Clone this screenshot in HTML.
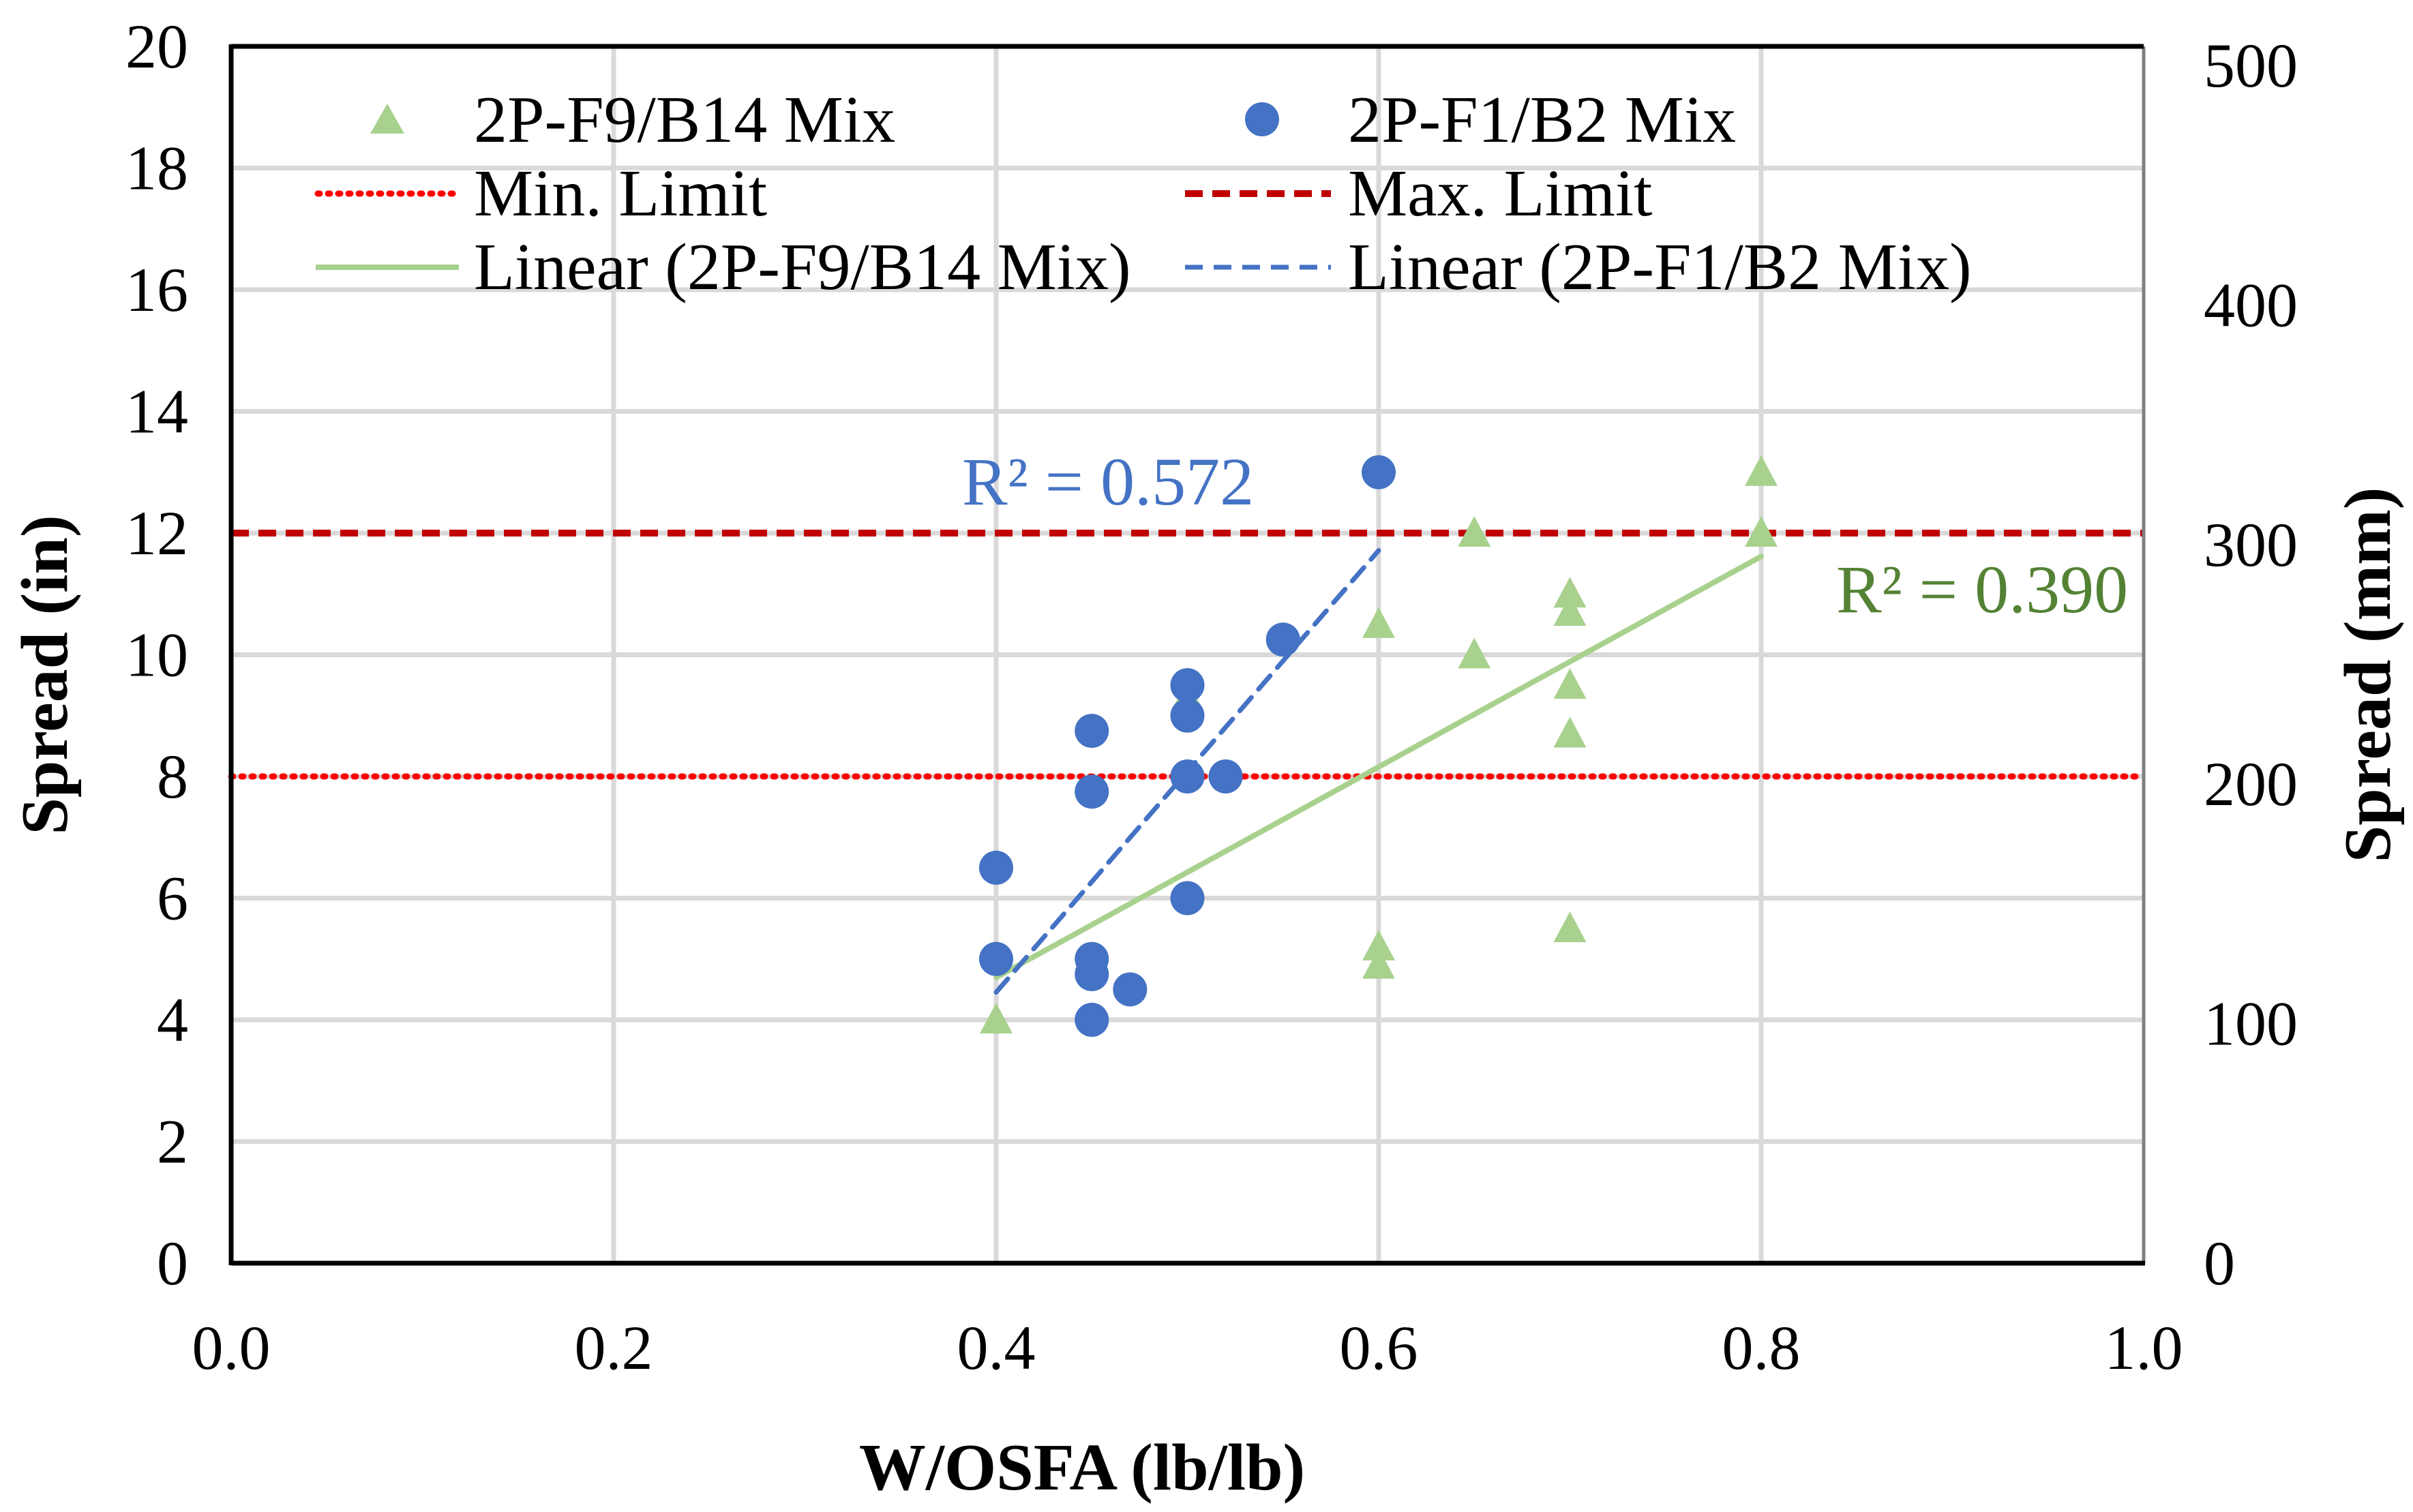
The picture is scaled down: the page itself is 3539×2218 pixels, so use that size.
<!DOCTYPE html>
<html><head><meta charset="utf-8"><style>
html,body{margin:0;padding:0;background:#fff}
svg{display:block;font-family:"Liberation Serif",serif}
</style></head><body>
<svg id="chart" width="3539" height="2218" viewBox="0 0 3539 2218">
<g id="grid"></g>
<g id="limits"></g>
<g id="trends"></g>
<g id="marks"></g>
<g id="axes"></g>
<g id="labels" font-size="92"></g>
<text x="1587" y="2185" font-size="98" font-weight="bold" text-anchor="middle">W/OSFA (lb/lb)</text>
<text transform="translate(98,990) rotate(-90)" font-size="98" font-weight="bold" text-anchor="middle">Spread (in)</text>
<text transform="translate(3505,990) rotate(-90)" font-size="98" font-weight="bold" text-anchor="middle">Spread (mm)</text>
<text x="1411" y="740" font-size="100" fill="#4472C4">R² = 0.572</text>
<text x="2693" y="898" font-size="100" fill="#548235">R² = 0.390</text>
<g font-size="98">
<polygon points="568,152 543,196 593,196" fill="#A9D18E"/>
<text x="695" y="208">2P-F9/B14 Mix</text>
<circle cx="1851" cy="175" r="25" fill="#4472C4"/>
<text x="1977" y="208">2P-F1/B2 Mix</text>
<line x1="466" y1="284" x2="673" y2="284" stroke="#FF0000" stroke-width="9" stroke-dasharray="3 12" stroke-linecap="round"/>
<text x="695" y="316">Min. Limit</text>
<line x1="1738" y1="284" x2="1952" y2="284" stroke="#C00000" stroke-width="10" stroke-dasharray="26 14"/>
<text x="1977" y="316">Max. Limit</text>
<line x1="463" y1="392" x2="673" y2="392" stroke="#A9D18E" stroke-width="8"/>
<text x="695" y="424">Linear (2P-F9/B14 Mix)</text>
<line x1="1738" y1="392" x2="1952" y2="392" stroke="#4472C4" stroke-width="7" stroke-dasharray="26 16"/>
<text x="1977" y="424">Linear (2P-F1/B2 Mix)</text>
</g>
</svg>
<script>
const xTicks = [0, 0.2, 0.4, 0.6, 0.8, 1.0];
const xTickLabels = ["0.0", "0.2", "0.4", "0.6", "0.8", "1.0"];
const yTicks = [0, 2, 4, 6, 8, 10, 12, 14, 16, 18, 20];
const y2Ticks = [0, 100, 200, 300, 400, 500];
const greenX = [0.4, 0.5, 0.6, 0.6, 0.6, 0.65, 0.65, 0.7, 0.7, 0.7, 0.7, 0.7, 0.8, 0.8];
const greenY = [4, 9.3, 10.5, 5.2, 4.9, 12, 10, 11, 10.7, 9.5, 8.7, 5.5, 13, 12];
const blueX = [0.4, 0.4, 0.45, 0.45, 0.45, 0.45, 0.45, 0.47, 0.5, 0.5, 0.5, 0.5, 0.52, 0.55, 0.6];
const blueY = [6.5, 5, 8.75, 7.75, 5, 4.75, 4, 4.5, 9.5, 9, 8, 6, 8, 10.25, 13];
const limits = [8, 12];

const L=339,R=3144,T=68,B=1853;
const sx=v=>L+(v-0)/(1-0)*(R-L);
const sy=v=>B-(v-0)/(20-0)*(B-T);
const NS="http://www.w3.org/2000/svg";
function mk(tag,attrs,parent){const e=document.createElementNS(NS,tag);for(const k in attrs)e.setAttribute(k,attrs[k]);document.getElementById(parent).appendChild(e);return e;}

xTicks.forEach((t,i)=>{
  if(t>0&&t<1){const g=mk('line',{x1:sx(t),x2:sx(t),y1:T,y2:B,stroke:'#D9D9D9','stroke-width':7},'grid');
  
  }
  const tx=mk('text',{x:sx(t),y:2008,'text-anchor':'middle'},'labels');tx.textContent=xTickLabels[i];
  
  
});
yTicks.forEach(t=>{
  if(t>0&&t<20){const g=mk('line',{x1:L,x2:R,y1:sy(t),y2:sy(t),stroke:'#D9D9D9','stroke-width':7},'grid');
  
  }
  const tx=mk('text',{x:276,y:sy(t)+31,'text-anchor':'end'},'labels');tx.textContent=t;
  
  
});
y2Ticks.forEach(t=>{
  const tx=mk('text',{x:3232,y:sy(t/25.4)+31},'labels');tx.textContent=t;
  
  
});
const mn=mk('line',{x1:L,x2:R,y1:sy(limits[0]),y2:sy(limits[0]),stroke:'#FF0000','stroke-width':9,'stroke-dasharray':'3 12','stroke-linecap':'round'},'limits');


const mx=mk('line',{x1:L,x2:R,y1:sy(limits[1]),y2:sy(limits[1]),stroke:'#C00000','stroke-width':10,'stroke-dasharray':'26 14'},'limits');


function reg(xs,ys){const n=xs.length;const mx=xs.reduce((a,b)=>a+b)/n,my=ys.reduce((a,b)=>a+b)/n;let sxy=0,sxx=0;for(let i=0;i<n;i++){sxy+=(xs[i]-mx)*(ys[i]-my);sxx+=(xs[i]-mx)**2;}const m=sxy/sxx;return [m,my-m*mx];}
const [gm,gb]=reg(greenX,greenY);
const gx0=Math.min(...greenX),gx1=Math.max(...greenX);
const gl=mk('line',{x1:sx(gx0),y1:sy(gm*gx0+gb),x2:sx(gx1),y2:sy(gm*gx1+gb),stroke:'#A9D18E','stroke-width':8,'stroke-linecap':'round'},'trends');


const [bm,bb]=reg(blueX,blueY);
const bx0=Math.min(...blueX),bx1=Math.max(...blueX);
const bl=mk('line',{x1:sx(bx0),y1:sy(bm*bx0+bb),x2:sx(bx1),y2:sy(bm*bx1+bb),stroke:'#4472C4','stroke-width':7,'stroke-dasharray':'26 16','stroke-linecap':'round'},'trends');


greenX.forEach((x,i)=>{const cx=sx(x),cy=sy(greenY[i]);
  const p=mk('polygon',{points:`${cx},${cy-25} ${cx-24},${cy+20} ${cx+24},${cy+20}`,fill:'#A9D18E'},'marks');
  
  
});
blueX.forEach((x,i)=>{
  const c=mk('circle',{cx:sx(x),cy:sy(blueY[i]),r:25,fill:'#4472C4'},'marks');
  
  
});
const ar=mk('line',{x1:R,x2:R,y1:T,y2:B,stroke:'#808080','stroke-width':5},'axes');


const at=mk('line',{x1:L,x2:R,y1:T,y2:T,stroke:'#000','stroke-width':7},'axes');


const al=mk('line',{x1:L,x2:L,y1:T-3,y2:B+3,stroke:'#000','stroke-width':7},'axes');


const ab=mk('line',{x1:L,x2:R+2,y1:B,y2:B,stroke:'#000','stroke-width':7},'axes');


</script>
</body></html>
